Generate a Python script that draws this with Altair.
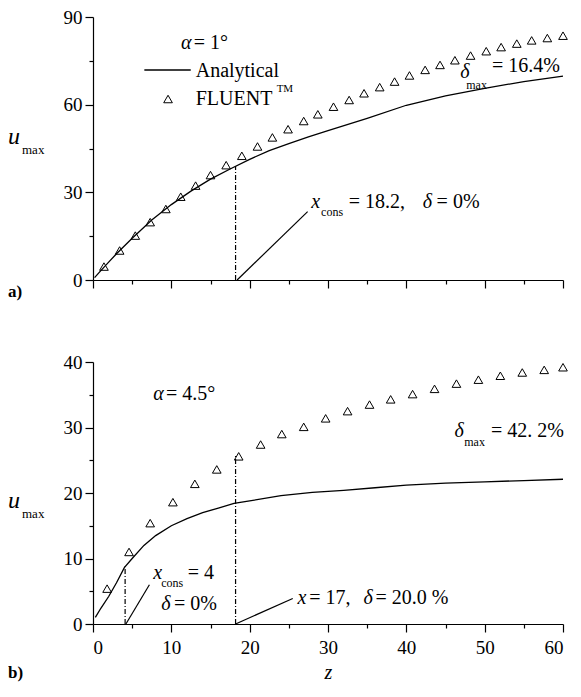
import altair as alt
import pandas as pd

FONT = "Liberation Serif, Times New Roman, Times, DejaVu Serif, serif"

# ---------------- data: panel a (alpha = 1 deg) ----------------
z_a_fluent = [1.4, 3.4, 5.4, 7.3, 9.3, 11.2, 13.1, 15.0, 17.0, 19.0, 21.0, 22.9,
              24.9, 26.9, 28.7, 30.7, 32.7, 34.6, 36.6, 38.5, 40.4, 42.4, 44.3,
              46.2, 48.2, 50.2, 52.1, 54.1, 56.0, 58.0, 60.0]
u_a_fluent = [4.6, 10.1, 15.2, 19.8, 24.3, 28.5, 32.3, 35.9, 39.3, 42.5, 45.7, 48.8,
              51.6, 54.4, 56.7, 59.3, 61.6, 63.9, 66.0, 67.9, 70.0, 71.9, 73.6,
              75.2, 76.8, 78.3, 79.7, 80.9, 82.0, 82.8, 83.6]
z_a_anal = [0.2, 1, 2, 3, 5, 7.5, 10, 12.5, 15, 17.5, 20, 22.5, 25, 27.5, 30,
            35, 40, 45, 50, 55, 60]
u_a_anal = [0.8, 3.2, 6.1, 9.0, 14.3, 20.5, 25.8, 30.4, 34.5, 38.0, 41.3, 44.3,
            46.7, 49.0, 51.1, 55.3, 59.8, 63.0, 65.6, 67.9, 69.8]
a_vline = {"z": [18.2], "u0": [0.0], "u1": [39.0]}
a_leader = {"z0": [18.4], "u0": [0.0], "z1": [27.4], "u1": [23.4]}

# ---------------- data: panel b (alpha = 4.5 deg) ----------------
z_b_fluent = [1.8, 4.6, 7.3, 10.2, 13.0, 15.8, 18.6, 21.4, 24.1, 26.9, 29.7,
              32.5, 35.3, 38.0, 40.8, 43.6, 46.4, 49.2, 52.0, 54.8, 57.6, 60.0]
u_b_fluent = [5.4, 11.0, 15.4, 18.6, 21.4, 23.6, 25.6, 27.4, 29.0, 30.1, 31.4,
              32.5, 33.5, 34.3, 35.1, 35.9, 36.7, 37.3, 37.9, 38.4, 38.8, 39.2]
z_b_anal = [0.3, 1, 2, 3, 4, 5, 6.5, 8, 10, 12, 14, 16, 18, 20, 24, 28, 32, 36,
            40, 45, 50, 55, 60]
u_b_anal = [1.0, 2.4, 4.2, 6.3, 8.6, 10.0, 12.0, 13.5, 15.0, 16.1, 17.0, 17.7,
            18.4, 18.8, 19.6, 20.1, 20.4, 20.8, 21.2, 21.5, 21.7, 21.9, 22.1]
b_vline = {"z": [4.1, 18.2], "u0": [0.0, 0.0], "u1": [8.8, 25.8]}
b_leader = {"z0": [4.2, 18.2], "u0": [0.0, 0.0], "z1": [7.2, 25.5], "u1": [6.0, 3.9]}

x_ticks = list(range(0, 61, 5))
y_a_ticks = list(range(0, 91, 15))
y_b_ticks = list(range(0, 41, 5))

TS = 20  # annotation font size
W = 470
H_A = 263
H_B = 262
SX = W / 476.0


def txt(s, x, y, size=TS, style="normal", weight="normal", align="left"):
    xx = x * SX if x > 0 else x
    return alt.Chart(pd.DataFrame({"t": [s]})).mark_text(
        align=align, baseline="middle", font=FONT, fontSize=size,
        fontStyle=style, fontWeight=weight, color="black"
    ).encode(x=alt.value(xx), y=alt.value(y), text="t:N")


def ax(values, major, labels=True, title=None, **kw):
    args = dict(
        values=values,
        tickSize={"condition": {"test": f"datum.value % {major} === 0", "value": 8}, "value": 4},
        grid=False,
        title=title,
    )
    if labels:
        args["labelExpr"] = f"datum.value % {major} === 0 ? datum.label : ''"
    else:
        args["labels"] = False
    args.update(kw)
    return alt.Axis(**args)


def panel(zf, uf, za, ua, vline, leader, ydom, yticks, ymajor, xaxis, h, extra):
    xs = alt.Scale(domain=[0, 60], nice=False, zero=False)
    ys = alt.Scale(domain=ydom, nice=False, zero=False)
    yax = ax(yticks, ymajor)
    line = alt.Chart(pd.DataFrame({"z": za, "u": ua})).mark_line(
        color="black", strokeWidth=1.3
    ).encode(x=alt.X("z:Q", scale=xs, axis=xaxis), y=alt.Y("u:Q", scale=ys, axis=yax))
    pts = alt.Chart(pd.DataFrame({"z": zf, "u": uf})).mark_point(
        shape="triangle-up", filled=False, size=75, color="black", strokeWidth=1, opacity=1
    ).encode(x=alt.X("z:Q", scale=xs, axis=xaxis), y=alt.Y("u:Q", scale=ys, axis=yax))
    vr = alt.Chart(pd.DataFrame(vline)).mark_rule(
        color="black", strokeWidth=1.2, strokeDash=[5, 2, 1, 2]
    ).encode(x=alt.X("z:Q", scale=xs, axis=xaxis), y=alt.Y("u0:Q", scale=ys, axis=yax), y2="u1:Q")
    ld = alt.Chart(pd.DataFrame(leader)).mark_rule(
        color="black", strokeWidth=1.2
    ).encode(x=alt.X("z0:Q", scale=xs, axis=xaxis), y=alt.Y("u0:Q", scale=ys, axis=yax),
             x2="z1:Q", y2="u1:Q")
    return alt.layer(line, pts, vr, ld, *extra).properties(width=W, height=h)


# ---------- panel a annotations (pixel offsets within plot area) ----------
dummy = pd.DataFrame({"a": [0]})
extra_a = [
    txt("α", 89, 26, style="italic"),
    txt("= 1°", 102, 26),
    alt.Chart(dummy).mark_rule(color="black", strokeWidth=1.3).encode(
        x=alt.value(52 * SX), x2=alt.value(99 * SX), y=alt.value(53)),
    txt("Analytical", 104, 54),
    alt.Chart(dummy).mark_point(shape="triangle-up", filled=False, size=75,
                                color="black", strokeWidth=1, opacity=1).encode(
        x=alt.value(76 * SX), y=alt.value(82)),
    txt("FLUENT", 104, 82),
    txt("TM", 186, 72, size=11),
    txt("x", 221, 185, style="italic"),
    txt("cons", 231, 195, size=12),
    txt("= 18.2,", 259, 185),
    txt("δ", 334, 185, style="italic"),
    txt("= 0%", 348, 185),
    txt("δ", 372, 55, style="italic"),
    txt("max", 378, 68, size=12),
    txt("= 16.4%", 404, 49),
    txt("u", -85, 120, size=24, style="italic"),
    txt("max", -71, 133, size=13),
    txt("a)", -85, 275, size=17, weight="bold"),
]

extra_b = [
    txt("α", 61, 32, style="italic"),
    txt("= 4.5°", 74, 32),
    txt("δ", 366, 69, style="italic"),
    txt("max", 376, 80, size=12),
    txt("= 42. 2%", 403, 69),
    txt("x", 61, 211, style="italic"),
    txt("cons", 69, 221, size=12),
    txt("= 4", 96, 211),
    txt("δ", 69, 242, style="italic"),
    txt("= 0%", 82, 242),
    txt("x", 207, 236, style="italic"),
    txt("= 17,", 219, 236),
    txt("δ", 274, 236, style="italic"),
    txt("= 20.0 %", 286, 236),
    txt("u", -85, 139, size=24, style="italic"),
    txt("max", -71, 152, size=13),
    txt("b)", -85, 311, size=17, weight="bold"),
]

top = panel(z_a_fluent, u_a_fluent, z_a_anal, u_a_anal, a_vline, a_leader,
            [0, 90], y_a_ticks, 30, ax(x_ticks, 10, labels=False), H_A, extra_a)
bottom = panel(z_b_fluent, u_b_fluent, z_b_anal, u_b_anal, b_vline, b_leader,
               [0, 40], y_b_ticks, 10,
               ax(x_ticks, 10, title="z", titleFont=FONT, titleFontStyle="italic",
                  titleFontWeight="normal", titleFontSize=20, titleColor="black",
                  titlePadding=5, labelFlush=True, labelPadding=6),
               H_B, extra_b)

chart = alt.vconcat(top, bottom, spacing=53).properties(
    padding={"left": 0, "top": 0, "right": 0, "bottom": 0}
).configure_view(stroke=None).configure_axis(
    domainColor="black", domainWidth=1.2, tickColor="black", tickWidth=1.2,
    labelColor="black", labelFont=FONT, labelFontSize=19, labelPadding=3,
)

chart.save("out.html", embed_options={"renderer": "svg", "actions": False})
